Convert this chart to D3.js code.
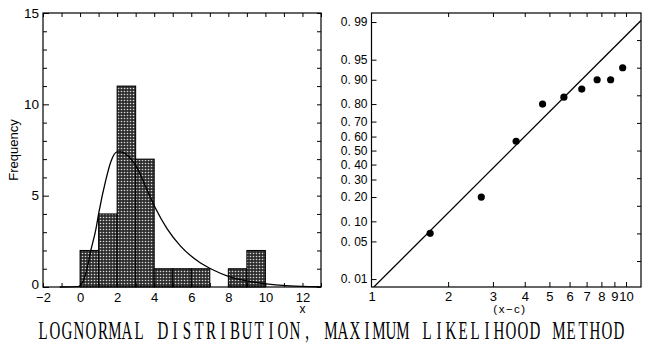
<!DOCTYPE html>
<head>
  <meta charset="utf-8">
  <title>Lognormal distribution, maximum likelihood method</title>
  <script src="https://d3js.org/d3.v7.min.js"></script>
  <style>
    body { margin: 0; background: #fff; }
    svg { display: block; }
    .lab { font-family: "Liberation Sans Narrow", "Arial Narrow", "Liberation Sans", sans-serif; }
  </style>
</head>
<body>
<script>
  // histogram (left)
  var binStart = [0, 1, 2, 3, 4, 5, 6, 8, 9];
  var binCount = [2, 4, 11, 7, 1, 1, 1, 1, 2];
  // fitted density curve
  var curveX = [-1.1, -0.1, 0.3, 0.58, 0.86, 1.0, 1.39, 1.66, 2.0, 2.2, 2.64, 3.09, 3.54, 4.07, 4.7, 5.41, 6.48, 7.19, 8.0, 8.98, 10.05, 11.1, 12.4, 13];
  var curveY = [0, 0.02, 0.7, 2.0, 3.2, 4.0, 5.86, 6.86, 7.4, 7.4, 7.13, 6.5, 5.49, 4.31, 3.18, 2.25, 1.33, 0.93, 0.58, 0.34, 0.17, 0.07, 0.02, 0.01];
  var yTicksLeft = [0, 5, 10, 15];

  // probability plot (right)
  var probX = [1.7, 2.7, 3.7, 4.7, 5.7, 6.7, 7.7, 8.7, 9.7];
  var probP = [0.067, 0.20, 0.567, 0.80, 0.833, 0.867, 0.90, 0.90, 0.933];
  var fitX = [1, 11.45];
  var fitP = [0.006, 0.9907];
  var probTicks = [0.01, 0.05, 0.10, 0.20, 0.30, 0.40, 0.50, 0.60, 0.70, 0.80, 0.90, 0.95, 0.99];
  var probLabels = ["0. 01", "0. 05", "0. 10", "0. 20", "0. 30", "0. 40", "0. 50", "0. 60", "0. 70", "0. 80", "0. 90", "0. 95", "0. 99"];
  var logTicks = [1, 2, 3, 4, 5, 6, 7, 8, 9, 10];

  var title = "LOGNORMAL DISTRIBUTION, MAXIMUM LIKELIHOOD METHOD";

  // inverse normal cdf (Acklam), used for the probability axis
  function probit(p) {
    var a = [-39.69683028665376, 220.9460984245205, -275.9285104469687, 138.3577518672690, -30.66479806614716, 2.506628277459239];
    var b = [-54.47609879822406, 161.5858368580409, -155.6989798598866, 66.80131188771972, -13.28068155288572];
    var c = [-0.007784894002430293, -0.3223964580411365, -2.400758277161838, -2.549732539343734, 4.374664141464968, 2.938163982698783];
    var d = [0.007784695709041462, 0.3224671290700398, 2.445134137142996, 3.754408661907416];
    var q, r;
    if (p < 0.02425) {
      q = Math.sqrt(-2 * Math.log(p));
      return (((((c[0]*q+c[1])*q+c[2])*q+c[3])*q+c[4])*q+c[5]) / ((((d[0]*q+d[1])*q+d[2])*q+d[3])*q+1);
    }
    if (p > 1 - 0.02425) {
      q = Math.sqrt(-2 * Math.log(1 - p));
      return -(((((c[0]*q+c[1])*q+c[2])*q+c[3])*q+c[4])*q+c[5]) / ((((d[0]*q+d[1])*q+d[2])*q+d[3])*q+1);
    }
    q = p - 0.5; r = q * q;
    return (((((a[0]*r+a[1])*r+a[2])*r+a[3])*r+a[4])*r+a[5])*q / (((((b[0]*r+b[1])*r+b[2])*r+b[3])*r+b[4])*r+1);
  }

  var svg = d3.select("body").append("svg")
    .attr("width", 645)
    .attr("height", 347);

  var defs = svg.append("defs");
  var pat = defs.append("pattern")
    .attr("id", "dots")
    .attr("width", 3).attr("height", 3)
    .attr("patternUnits", "userSpaceOnUse");
  pat.append("rect").attr("width", 3).attr("height", 3).attr("fill", "#2e2e2e");
  pat.append("circle").attr("cx", 1.5).attr("cy", 1.5).attr("r", 0.8).attr("fill", "#d8d8d8");

  // ---------- left panel ----------
  var L = {left: 43, right: 321, top: 13, bottom: 287};
  var x1 = d3.scaleLinear().domain([-2, 13]).range([L.left, L.right]);
  var y1 = d3.scaleLinear().domain([0, 15]).range([L.bottom, L.top]);

  var gL = svg.append("g");

  gL.selectAll("rect.bar")
    .data(binStart)
    .enter().append("rect")
    .attr("class", "bar")
    .attr("x", function(d) { return x1(d); })
    .attr("y", function(d, i) { return y1(binCount[i]); })
    .attr("width", function(d) { return x1(d + 1) - x1(d); })
    .attr("height", function(d, i) { return y1(0) - y1(binCount[i]); })
    .attr("fill", "url(#dots)")
    .attr("stroke", "#000")
    .attr("stroke-width", 1);

  var curveLine = d3.line()
    .x(function(d) { return x1(d); })
    .y(function(d, i) { return y1(curveY[i]); })
    .curve(d3.curveMonotoneX);
  gL.append("path")
    .attr("d", curveLine(curveX))
    .attr("fill", "none")
    .attr("stroke", "#000")
    .attr("stroke-width", 1.3);

  var unitX = d3.range(-2, 14), unitY = d3.range(0, 16);

  var axB = gL.append("g").attr("class", "lab")
    .attr("transform", "translate(0," + L.bottom + ")")
    .call(d3.axisBottom(x1).tickValues(unitX).tickSizeInner(-4).tickSizeOuter(0).tickPadding(6)
      .tickFormat(function(d) { return d % 2 === 0 ? d3.format("d")(d) : ""; }));
  var axLft = gL.append("g").attr("class", "lab")
    .attr("transform", "translate(" + L.left + ",0)")
    .call(d3.axisLeft(y1).tickValues(unitY).tickSizeInner(-4).tickSizeOuter(0).tickPadding(4)
      .tickFormat(function(d) { return yTicksLeft.indexOf(d) >= 0 ? d : ""; }));
  axLft.selectAll(".tick line").attr("x2", function(d) { return yTicksLeft.indexOf(d) >= 0 ? 6 : 4; });
  var axT = gL.append("g")
    .attr("transform", "translate(0," + L.top + ")")
    .call(d3.axisTop(x1).tickValues(unitX).tickSizeInner(-4).tickSizeOuter(0).tickFormat(""));
  var axR = gL.append("g")
    .attr("transform", "translate(" + L.right + ",0)")
    .call(d3.axisRight(y1).tickValues(unitY).tickSizeInner(-4).tickSizeOuter(0).tickFormat(""));

  [axB, axLft, axT, axR].forEach(function(a) {
    a.select(".domain").remove();
    a.selectAll(".tick line").attr("stroke", "#000").attr("stroke-width", 1);
  });
  axB.selectAll("text").attr("font-size", 13).attr("fill", "#000");
  axLft.selectAll("text").attr("font-size", 13.5).attr("fill", "#000");
  // the "0" sits just above the x labels, as in the print
  axLft.selectAll(".tick").filter(function(d) { return d === 0; }).select("text").attr("dy", "0.1em");

  gL.append("rect")
    .attr("x", L.left).attr("y", L.top)
    .attr("width", L.right - L.left).attr("height", L.bottom - L.top)
    .attr("fill", "none").attr("stroke", "#000").attr("stroke-width", 1.2);

  gL.append("text")
    .attr("transform", "translate(18,150) rotate(-90)")
    .attr("text-anchor", "middle")
    .attr("font-family", "'Liberation Sans', Arial, sans-serif")
    .attr("font-size", 13)
    .text("Frequency");
  gL.append("text")
    .attr("x", x1(12)).attr("y", 313)
    .attr("text-anchor", "middle")
    .attr("font-family", "'Liberation Sans', Arial, sans-serif")
    .attr("font-size", 12)
    .text("x");

  // ---------- right panel ----------
  var R = {left: 371.5, right: 641, top: 13, bottom: 287};
  var x2 = d3.scaleLog().domain([1, 11.45]).range([R.left, R.right]);
  var z2 = d3.scaleLinear().domain([-2.47, 2.49]).range([R.bottom, R.top]);
  function y2(p) { return z2(probit(p)); }

  var gR = svg.append("g");
  defs.append("clipPath").attr("id", "clipR")
    .append("rect").attr("x", R.left).attr("y", R.top)
    .attr("width", R.right - R.left).attr("height", R.bottom - R.top);

  gR.append("path")
    .attr("clip-path", "url(#clipR)")
    .attr("d", d3.line()
      .x(function(d) { return x2(d); })
      .y(function(d, i) { return y2(fitP[i]); })(fitX))
    .attr("fill", "none")
    .attr("stroke", "#000")
    .attr("stroke-width", 1.3);

  gR.selectAll("circle.pt")
    .data(probX)
    .enter().append("circle")
    .attr("class", "pt")
    .attr("cx", function(d) { return x2(d); })
    .attr("cy", function(d, i) { return y2(probP[i]); })
    .attr("r", 3.6)
    .attr("fill", "#000");

  var bx = gR.append("g").attr("class", "lab")
    .attr("transform", "translate(0," + R.bottom + ")")
    .call(d3.axisBottom(x2).tickValues(logTicks).tickSizeInner(-5).tickSizeOuter(0).tickPadding(5)
      .tickFormat(d3.format("d")));
  var tx = gR.append("g")
    .attr("transform", "translate(0," + R.top + ")")
    .call(d3.axisTop(x2).tickValues(logTicks.slice(1)).tickSizeInner(-4).tickSizeOuter(0).tickFormat(""));
  var ly = gR.append("g")
    .attr("transform", "translate(" + R.left + ",0)")
    .call(d3.axisLeft(z2).tickValues(probTicks.map(probit)).tickSizeInner(-5).tickSizeOuter(0).tickPadding(4)
      .tickFormat(function(d, i) { return probLabels[i]; }));
  var ry = gR.append("g")
    .attr("transform", "translate(" + R.right + ",0)")
    .call(d3.axisRight(z2).tickValues(d3.range(-2, 2.01, 0.5)).tickSizeInner(-4).tickSizeOuter(0).tickFormat(""));

  [bx, tx, ly, ry].forEach(function(a) {
    a.select(".domain").remove();
    a.selectAll(".tick line").attr("stroke", "#000").attr("stroke-width", 1);
  });
  bx.selectAll("text").attr("font-size", 13).attr("fill", "#000");
  bx.selectAll(".tick").filter(function(d) { return d === 1; }).select("line").remove();
  ly.selectAll("text").attr("font-size", 12).attr("fill", "#000")
    .attr("font-family", "'Liberation Sans', Arial, sans-serif");

  gR.append("rect")
    .attr("x", R.left).attr("y", R.top)
    .attr("width", R.right - R.left).attr("height", R.bottom - R.top)
    .attr("fill", "none").attr("stroke", "#000").attr("stroke-width", 1.2);

  gR.append("text")
    .attr("x", 510).attr("y", 313)
    .attr("text-anchor", "middle")
    .attr("font-family", "'Liberation Sans', Arial, sans-serif")
    .attr("font-size", 11.5)
    .attr("letter-spacing", 1.5)
    .text("(x\u2212c)");

  // ---------- title, fixed pitch like the original print ----------
  var sx = 0.6, pitch = 12, x0 = 37;
  svg.append("text")
    .attr("transform", "scale(" + sx + ",1)")
    .attr("y", 339)
    .attr("text-anchor", "middle")
    .attr("font-family", "'Liberation Serif', 'DejaVu Serif', serif")
    .attr("font-size", 25)
    .attr("x", title.split("").map(function(ch, i) { return ((x0 + i * pitch + pitch / 2) / sx).toFixed(1); }).join(" "))
    .text(title);
</script>
</body>
